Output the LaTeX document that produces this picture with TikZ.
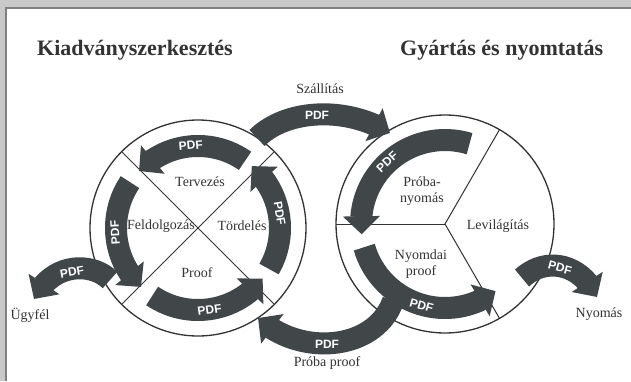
\documentclass[tikz,border=0pt]{standalone}
\usepackage{fontspec}
\setmainfont{Liberation Serif}
\newfontfamily\pdffont{Liberation Sans}
\usetikzlibrary{arrows.meta,bending}

\definecolor{Band}{HTML}{414649}
\definecolor{Ink}{HTML}{333333}
\definecolor{Scan}{HTML}{C9C9C9}

\begin{document}
\begin{tikzpicture}[x=1pt, y=1pt,
  band/.style={line width=22pt, color=Band, -{Triangle[length=18pt, width=36pt]}},
  pdf/.style={text=white, font=\pdffont\bfseries\fontsize{12}{12}\selectfont, inner sep=0pt},
  lbl/.style={text=Ink, font=\fontsize{14}{15.5}\selectfont, align=center, inner sep=0pt},
  heading/.style={text=Ink, font=\bfseries\fontsize{22}{24}\selectfont, anchor=base west, inner sep=0pt},
  ring/.style={line width=1.3pt, color=Ink},
  divider/.style={line width=1pt, color=Ink}]

 \useasboundingbox (0,0) rectangle (631,381);

 %%%%%%%%%% Page frame %%%%%%%%%%
 \fill [Scan] (0,0) rectangle (631,381);
 \fill [white] (6,0) rectangle (631,373);
 \draw [line width=1.2pt, color=gray] (6,0) -- (6,373) -- (631,373);

 %%%%%%%%%% Points pour travailler %%%%%%%%%%
 \coordinate (L) at (198,153);
 \coordinate (R) at (445,157);

 \coordinate (szallA) at (257,243);
 \coordinate (szallB) at (390,248);
 \coordinate (ugyA) at (110,101);
 \coordinate (ugyB) at (34,82);
 \coordinate (probaA) at (393,80);
 \coordinate (probaB) at (258,63);
 \coordinate (nyomA) at (522,103);
 \coordinate (nyomB) at (597,84);

 %%%%%%%%%% Headings %%%%%%%%%%
 \node [heading] (kiad) at (37,325) {Kiadványszerkesztés};
 \node [heading] (gyart) at (400,325) {Gyártás és nyomtatás};

 %%%%%%%%%% Circles %%%%%%%%%%
 \draw [ring] (L) circle [radius=108pt];
 \draw [ring] (R) circle [radius=109pt];

 \draw [divider] ([shift={(45:108pt)}]L) -- ([shift={(225:108pt)}]L);
 \draw [divider] ([shift={(135:108pt)}]L) -- ([shift={(315:108pt)}]L);

 \draw [divider] (R) -- ([shift={(180:109pt)}]R);
 \draw [divider] (R) -- ([shift={(60:109pt)}]R);
 \draw [divider] (R) -- ([shift={(300:109pt)}]R);

 %%%%%%%%%% Step labels %%%%%%%%%%
 \node [lbl] (terv) at (200,199) {Tervezés};
 \node [lbl] (feld) at (161,155) {Feldolgozás};
 \node [lbl] (tord) at (242,155) {Tördelés};
 \node [lbl] (proof) at (197,108) {Proof};

 \node [lbl] (probany) at (422,190) {Próba-\\nyomás};
 \node [lbl] (levil) at (498,155) {Levilágítás};
 \node [lbl] (nyproof) at (421,117) {Nyomdai\\proof};

 \node [lbl] (szall) at (320,292) {Szállítás};
 \node [lbl] (ugyfel) at (30,66) {Ügyfél};
 \node [lbl] (nyomas) at (599,67) {Nyomás};
 \node [lbl] (probapr) at (327,18) {Próba proof};

 %%%%%%%%%% Arrows left circle %%%%%%%%%%
 \draw [band] ([shift={(55:82pt)}]L) arc [start angle=55, end angle=136, radius=82pt];
 \draw [band] ([shift={(146:82pt)}]L) arc [start angle=146, end angle=226, radius=82pt];
 \draw [band] ([shift={(236:82pt)}]L) arc [start angle=236, end angle=322, radius=82pt];
 \draw [band] ([shift={(330:82pt)}]L) arc [start angle=330, end angle=409, radius=82pt];

 %%%%%%%%%% Arrows right circle %%%%%%%%%%
 \draw [band] ([shift={(73:84pt)}]R) arc [start angle=73, end angle=187, radius=84pt];
 \draw [band] ([shift={(196:84pt)}]R) arc [start angle=196, end angle=307, radius=84pt];

 %%%%%%%%%% Arrows between %%%%%%%%%%
 \draw [band] (szallA) .. controls (285,271) and (345,276) .. (szallB);
 \draw [band] (ugyA) .. controls (92,119) and (52,119) .. (ugyB);
 \draw [band] (probaA) .. controls (375,30) and (300,24) .. (probaB);
 \draw [band] (nyomA) .. controls (545,124) and (580,119) .. (nyomB);

 %%%%%%%%%% PDF labels %%%%%%%%%%
 \node [pdf, rotate=5] (pdfT) at ([shift={(95:83pt)}]L) {PDF};
 \node [pdf, rotate=93] (pdfL) at ([shift={(183:83pt)}]L) {PDF};
 \node [pdf, rotate=8] (pdfB) at ([shift={(278:83pt)}]L) {PDF};
 \node [pdf, rotate=-80] (pdfR) at ([shift={(10:83pt)}]L) {PDF};

 \node [pdf, rotate=43] (pdfPN) at ([shift={(133:85pt)}]R) {PDF};
 \node [pdf, rotate=-16] (pdfNP) at ([shift={(254:85pt)}]R) {PDF};

 \node [pdf] (pdfSz) at (317,266) {PDF};
 \node [pdf, rotate=10] (pdfUgy) at (72,109) {PDF};
 \node [pdf] (pdfPp) at (327,37) {PDF};
 \node [pdf, rotate=-15] (pdfNy) at (560,113) {PDF};

\end{tikzpicture}
\end{document}
